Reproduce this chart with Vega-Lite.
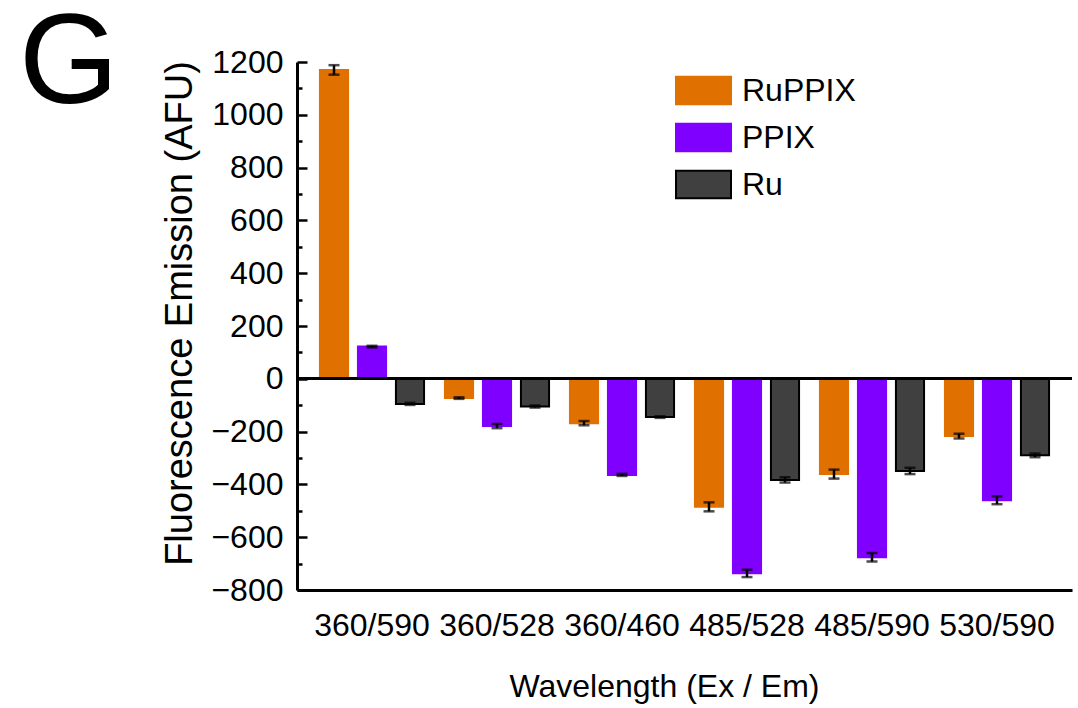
{
  "$schema": "https://vega.github.io/schema/vega-lite/v6.json",
  "autosize": {"type": "none"},
  "padding": {"left": 297, "top": 62, "right": 6, "bottom": 118},
  "width": 775,
  "height": 528,
  "background": "white",
  "title": {"text": "G", "anchor": "start", "frame": "group", "fontSize": 128, "font": "Liberation Sans", "fontWeight": "normal", "color": "black", "baseline": "alphabetic", "offset": 0, "dx": -278, "dy": 185},
  "config": {
    "font": "Liberation Sans",
    "view": {"stroke": null},
    "axis": {"labelColor": "black", "titleColor": "black", "labelFont": "Liberation Sans", "titleFont": "Liberation Sans", "titleFontWeight": "normal", "grid": false, "domainColor": "black", "tickColor": "black"},
    "legend": {"labelFont": "Liberation Sans", "labelColor": "black"}
  },
  "data": {"values": [
    {"wl": "360/590", "sample": "RuPPIX", "value": 1170, "err": 18},
    {"wl": "360/590", "sample": "PPIX", "value": 122, "err": 3},
    {"wl": "360/590", "sample": "Ru", "value": -95, "err": 4},
    {"wl": "360/528", "sample": "RuPPIX", "value": -73, "err": 3},
    {"wl": "360/528", "sample": "PPIX", "value": -179, "err": 8},
    {"wl": "360/528", "sample": "Ru", "value": -105, "err": 4},
    {"wl": "360/460", "sample": "RuPPIX", "value": -168, "err": 8},
    {"wl": "360/460", "sample": "PPIX", "value": -364, "err": 4},
    {"wl": "360/460", "sample": "Ru", "value": -145, "err": 3},
    {"wl": "485/528", "sample": "RuPPIX", "value": -485, "err": 17},
    {"wl": "485/528", "sample": "PPIX", "value": -737, "err": 14},
    {"wl": "485/528", "sample": "Ru", "value": -383, "err": 10},
    {"wl": "485/590", "sample": "RuPPIX", "value": -361, "err": 17},
    {"wl": "485/590", "sample": "PPIX", "value": -676, "err": 16},
    {"wl": "485/590", "sample": "Ru", "value": -349, "err": 12},
    {"wl": "530/590", "sample": "RuPPIX", "value": -217, "err": 9},
    {"wl": "530/590", "sample": "PPIX", "value": -460, "err": 15},
    {"wl": "530/590", "sample": "Ru", "value": -290, "err": 7}
  ]},
  "resolve": {"axis": {"y": "independent"}},
  "layer": [
    {
      "mark": {"type": "bar", "strokeWidth": 2},
      "encoding": {
        "x": {"field": "wl", "type": "nominal", "sort": ["360/590", "360/528", "360/460", "485/528", "485/590", "530/590"],
              "scale": {"paddingInner": 0, "paddingOuter": 0.1},
              "axis": {"title": "Wavelength (Ex / Em)", "titleFontSize": 32, "titlePadding": 30, "titleX": 367, "titleAlign": "center", "titleAnchor": null, "labelFontSize": 32, "labelAngle": 0, "labelPadding": 20, "ticks": false, "domainWidth": 3}},
        "xOffset": {"field": "sample", "type": "nominal", "sort": ["RuPPIX", "PPIX", "Ru"], "scale": {"paddingInner": 0.26, "paddingOuter": 0.275}},
        "y": {"field": "value", "type": "quantitative", "scale": {"domain": [-800, 1200], "nice": false, "zero": false},
              "axis": {"title": "Fluorescence Emission (AFU)", "titleFontSize": 38, "titlePadding": 11, "titleY": 251, "format": "d", "values": [-800, -600, -400, -200, 0, 200, 400, 600, 800, 1000, 1200], "labelFontSize": 32, "tickSize": -10, "tickWidth": 2.5, "labelPadding": 24, "domainWidth": 3, "labelFlush": false}},
        "color": {"field": "sample", "type": "nominal", "sort": ["RuPPIX", "PPIX", "Ru"],
                  "scale": {"domain": ["RuPPIX", "PPIX", "Ru"], "range": ["#E07000", "#8000FF", "#404040"]},
                  "legend": {"orient": "none", "legendX": 378, "legendY": 0, "title": null, "symbolType": "M-1,-0.5H1V0.5H-1Z", "symbolSize": 3025, "symbolStrokeWidth": 2, "labelFontSize": 32, "labelOffset": 10, "rowPadding": -10, "padding": 0, "symbolOpacity": 1}},
        "stroke": {"field": "sample", "type": "nominal", "sort": ["RuPPIX", "PPIX", "Ru"],
                   "scale": {"domain": ["RuPPIX", "PPIX", "Ru"], "range": ["#E07000", "#8000FF", "#000000"]},
                   "legend": {"orient": "none", "legendX": 378, "legendY": 0, "title": null, "symbolType": "M-1,-0.5H1V0.5H-1Z", "symbolSize": 3025, "symbolStrokeWidth": 2, "labelFontSize": 32, "labelOffset": 10, "rowPadding": -10, "padding": 0, "symbolOpacity": 1}}
      }
    },
    {
      "mark": {"type": "errorbar", "ticks": {"size": 11, "thickness": 2.5, "color": "black"}, "thickness": 2.5, "color": "black"},
      "encoding": {
        "x": {"field": "wl", "type": "nominal", "sort": ["360/590", "360/528", "360/460", "485/528", "485/590", "530/590"]},
        "xOffset": {"field": "sample", "type": "nominal", "sort": ["RuPPIX", "PPIX", "Ru"]},
        "y": {"field": "value", "type": "quantitative", "axis": null},
        "yError": {"field": "err"}
      }
    },
    {
      "mark": {"type": "rule", "color": "black", "strokeWidth": 2.5},
      "encoding": {
        "y": {"datum": 0, "type": "quantitative",
              "axis": {"orient": "left", "values": [-700, -500, -300, -100, 100, 300, 500, 700, 900, 1100], "labels": false, "domain": false, "title": null, "tickSize": -5, "tickWidth": 2.5}}
      }
    }
  ]
}
